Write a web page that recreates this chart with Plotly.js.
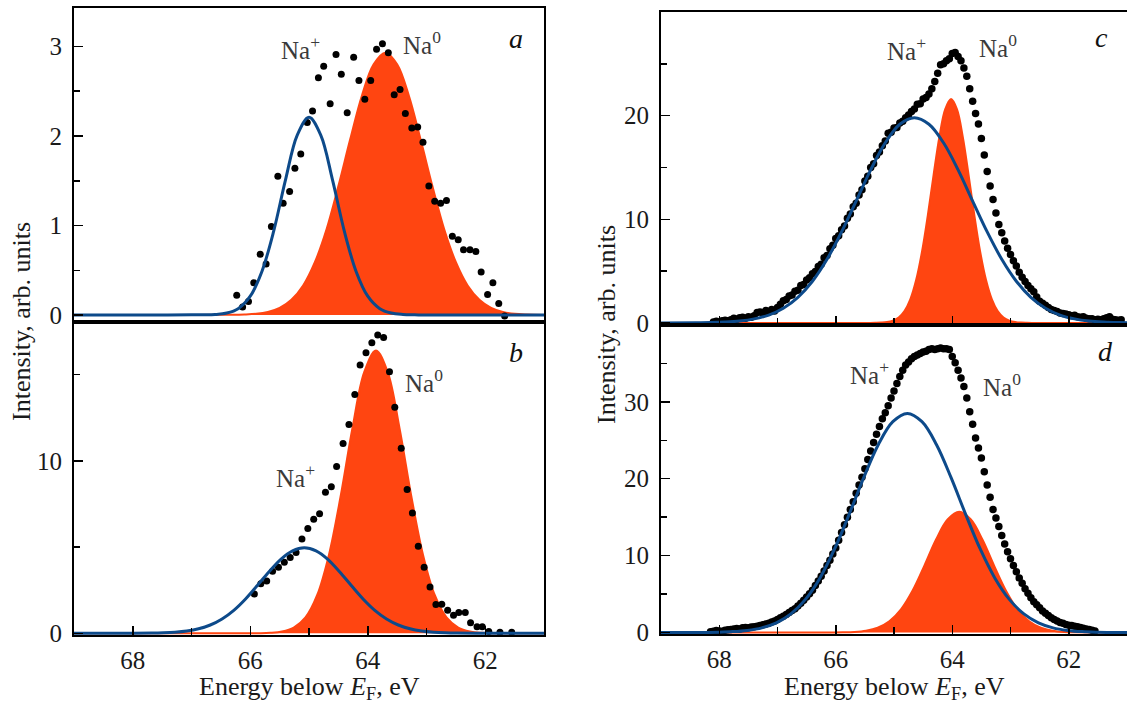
<!DOCTYPE html>
<html>
<head>
<meta charset="utf-8">
<script src="https://cdn.plot.ly/plotly-3.0.1.min.js"></script>
<style>html,body{margin:0;padding:0;background:#fff;}#chart{width:1127px;height:707px;}</style>
</head>
<body>
<div id="chart"></div>
<script>
// ---------- Panel a ----------
const aPtsX = [66.23,66.13,66.03,65.94,65.83,65.73,65.64,65.53,65.44,65.33,65.24,65.14,65.03,64.94,64.84,64.75,64.64,64.54,64.45,64.35,64.24,64.15,64.05,63.95,63.85,63.75,63.65,63.55,63.45,63.36,63.25,63.15,63.06,62.96,62.86,62.76,62.66,62.56,62.46,62.37,62.26,62.16,62.07,61.96,61.87,61.77,61.67];
const aPtsY = [0.22,0.09,0.15,0.36,0.68,0.57,0.99,1.55,1.25,1.38,1.64,1.80,2.15,2.28,2.65,2.78,2.36,2.91,2.69,2.26,2.88,2.62,2.41,2.62,2.97,3.03,2.93,2.46,2.52,2.25,2.09,2.10,1.93,1.44,1.27,1.25,1.28,0.88,0.84,0.73,0.73,0.71,0.48,0.23,0.36,0.13,-0.01];
const aPlusX = [69,68,67.4,67.0,66.8,66.6,66.4,66.2,66.0,65.8,65.6,65.4,65.2,65.0,64.8,64.6,64.4,64.2,64.0,63.8,63.6,63.4,63.2,63.0,62.6,61];
const aPlusY = [0,0,0,0.002,0.003,0.006,0.022,0.074,0.21,0.49,0.94,1.51,2.01,2.21,2.01,1.51,0.94,0.49,0.21,0.074,0.022,0.006,0.002,0,0,0];
const aZeroX = [69,67.5,66.9,66.5,66.3,66.1,65.9,65.7,65.5,65.3,65.1,64.9,64.7,64.5,64.3,64.1,63.9,63.7,63.5,63.3,63.1,62.9,62.7,62.5,62.3,62.1,61.9,61.7,61.5,61.3,61];
const aZeroY = [0,0,0,0.002,0.002,0.005,0.013,0.034,0.079,0.17,0.33,0.59,0.96,1.44,1.96,2.45,2.80,2.93,2.80,2.45,1.96,1.44,0.96,0.59,0.33,0.17,0.079,0.034,0.013,0.005,0.001];

// ---------- Panel b ----------
const bPtsX = [65.93,65.82,65.72,65.62,65.52,65.42,65.32,65.22,65.12,65.02,64.92,64.82,64.72,64.62,64.53,64.42,64.32,64.22,64.13,64.03,63.93,63.83,63.73,63.63,63.54,63.43,63.33,63.24,63.14,63.04,62.94,62.84,62.74,62.64,62.54,62.45,62.34,62.25,62.14,62.05,61.94,61.75,61.55];
const bPtsY = [2.28,2.87,3.03,3.60,3.83,4.12,4.39,4.69,5.46,6.07,6.61,6.93,8.18,8.49,9.67,11.0,12.1,13.85,15.56,16.26,16.84,17.30,17.15,15.17,13.10,10.73,8.33,6.97,5.04,3.83,2.68,1.67,1.69,1.34,1.05,1.21,1.21,0.61,0.38,0.38,0.10,0.06,0.06];
const bPlusX = [69,68.4,68.0,67.68,67.48,67.28,67.08,66.88,66.68,66.48,66.28,66.08,65.88,65.68,65.48,65.28,65.08,64.88,64.68,64.48,64.28,64.08,63.88,63.68,63.48,63.28,63.08,62.88,62.68,62.48,62.16,61.7,61];
const bPlusY = [0,0,0.003,0.01,0.026,0.06,0.13,0.26,0.48,0.83,1.33,1.99,2.77,3.57,4.29,4.78,4.96,4.78,4.29,3.57,2.77,1.99,1.33,0.83,0.48,0.26,0.13,0.06,0.026,0.01,0.003,0,0];
const bZeroX = [69,67,66.4,66.06,65.86,65.66,65.46,65.26,65.06,64.86,64.66,64.46,64.26,64.06,63.86,63.66,63.46,63.26,63.06,62.86,62.66,62.46,62.26,62.06,61.86,61.66,61.3,61];
const bZeroY = [0,0,0,0.001,0.005,0.025,0.10,0.33,0.92,2.22,4.56,7.98,11.91,15.14,16.4,15.14,11.91,7.98,4.56,2.22,0.92,0.33,0.10,0.025,0.005,0.001,0,0];

// ---------- Panel c ----------
const cPtsX = [68.10,68.05,68.00,67.95,67.90,67.85,67.80,67.75,67.70,67.65,
67.60,67.55,67.50,67.45,67.40,67.35,67.30,67.25,67.20,67.15,
67.10,67.05,67.00,66.95,66.90,66.85,66.80,66.75,66.70,66.65,
66.60,66.55,66.50,66.45,66.40,66.35,66.30,66.25,66.20,66.15,
66.10,66.05,66.00,65.95,65.90,65.85,65.80,65.75,65.70,65.65,
65.60,65.55,65.50,65.45,65.40,65.35,65.30,65.25,65.20,65.15,
65.10,65.05,65.00,64.95,64.90,64.85,64.80,64.75,64.70,64.65,
64.60,64.55,64.50,64.45,64.40,64.35,64.30,64.25,64.20,64.15,
64.10,64.05,64.00,63.95,63.90,63.85,63.80,63.75,63.70,63.65,
63.60,63.55,63.50,63.45,63.40,63.35,63.30,63.25,63.20,63.15,
63.10,63.05,63.00,62.95,62.90,62.85,62.80,62.75,62.70,62.65,
62.60,62.55,62.50,62.45,62.40,62.35,62.30,62.25,62.20,62.15,
62.10,62.05,62.00,61.95,61.90,61.85,61.80,61.75,61.70,61.65,
61.60,61.55,61.50,61.45,61.40,61.35,61.30,61.25,61.20,61.15,
61.10];
const cPtsY = [0.10,0.15,0.10,0.20,0.25,0.20,0.30,0.45,0.35,0.50,
0.55,0.45,0.60,0.55,0.70,1.00,1.05,0.95,1.20,1.05,
1.30,1.15,1.50,1.80,2.15,2.25,2.60,2.70,3.05,3.15,
3.60,3.70,4.15,4.35,4.75,4.95,5.45,5.65,6.30,6.50,
7.15,7.50,8.15,8.40,9.00,9.35,10.10,10.50,11.20,11.55,
12.35,12.85,13.70,14.15,15.00,15.35,16.15,16.50,17.10,17.55,
18.30,18.40,18.80,18.85,19.30,19.45,19.80,20.05,20.40,20.65,
21.10,21.15,21.60,21.75,22.10,22.60,23.30,24.10,24.90,25.00,
25.30,25.50,26.00,26.10,25.70,25.30,24.60,23.80,22.60,21.40,
20.20,19.20,17.80,16.20,14.60,13.20,11.90,10.60,9.50,8.70,
7.90,7.20,6.60,6.00,5.50,4.90,4.40,4.00,3.60,3.30,
3.00,2.50,2.10,1.90,1.70,1.50,1.30,1.20,1.10,0.95,
0.90,0.85,0.80,0.70,0.75,0.60,0.55,0.60,0.45,0.40,
0.40,0.30,0.35,0.30,0.40,0.50,0.60,0.35,0.30,0.25,
0.30];
const cPlusX = [69,68.4,68.15,67.9,67.65,67.4,67.15,66.9,66.65,66.4,66.15,65.9,65.65,65.4,65.15,64.9,64.65,64.4,64.15,63.9,63.65,63.4,63.15,62.9,62.65,62.4,62.15,61.9,61.65,61.4,61.15,61];
const cPlusY = [0,0.01,0.03,0.08,0.18,0.39,0.76,1.42,2.47,4.02,6.14,8.78,11.76,14.77,17.38,19.17,19.8,19.17,17.38,14.77,11.76,8.78,6.14,4.02,2.47,1.42,0.76,0.39,0.18,0.08,0.03,0.015];
const cZeroX = [69,66,65.6,65.42,65.32,65.22,65.12,65.02,64.92,64.82,64.72,64.62,64.52,64.42,64.32,64.22,64.12,64.02,63.92,63.82,63.72,63.62,63.52,63.42,63.32,63.22,63.12,63.02,62.92,62.82,62.72,62.62,62.4,61];
const cZeroY = [0,0,0,0.003,0.01,0.03,0.08,0.22,0.52,1.14,2.27,4.13,6.85,10.36,14.29,17.97,20.63,21.6,20.63,17.97,14.29,10.36,6.85,4.13,2.27,1.14,0.52,0.22,0.08,0.03,0.01,0.003,0,0];

// ---------- Panel d ----------
const dPtsX = [68.15,68.10,68.05,68.00,67.95,67.90,67.85,67.80,67.75,67.70,
67.65,67.60,67.55,67.50,67.45,67.40,67.35,67.30,67.25,67.20,
67.15,67.10,67.05,67.00,66.95,66.90,66.85,66.80,66.75,66.70,
66.65,66.60,66.55,66.50,66.45,66.40,66.35,66.30,66.25,66.20,
66.15,66.10,66.05,66.00,65.95,65.90,65.85,65.80,65.75,65.70,
65.65,65.60,65.55,65.50,65.45,65.40,65.35,65.30,65.25,65.20,
65.15,65.10,65.05,65.00,64.95,64.90,64.85,64.80,64.75,64.70,
64.65,64.60,64.55,64.50,64.45,64.40,64.35,64.30,64.25,64.20,
64.15,64.10,64.05,64.00,63.95,63.90,63.85,63.80,63.75,63.70,
63.65,63.60,63.55,63.50,63.45,63.40,63.35,63.30,63.25,63.20,
63.15,63.10,63.05,63.00,62.95,62.90,62.85,62.80,62.75,62.70,
62.65,62.60,62.55,62.50,62.45,62.40,62.35,62.30,62.25,62.20,
62.15,62.10,62.05,62.00,61.95,61.90,61.85,61.80,61.75,61.70,
61.65,61.60,61.55];
const dPtsY = [0.10,0.15,0.25,0.20,0.15,0.30,0.35,0.40,0.45,0.50,
0.45,0.60,0.65,0.60,0.70,0.75,0.80,0.90,1.00,1.10,
1.20,1.35,1.50,1.70,1.90,2.10,2.35,2.60,2.85,3.10,
3.45,3.80,4.20,4.60,5.05,5.50,6.10,6.70,7.30,8.00,
8.70,9.40,10.20,11.00,12.00,13.00,14.00,15.00,16.00,17.00,
18.10,19.20,20.20,21.30,22.50,23.60,24.70,25.80,26.80,27.80,
28.60,29.50,30.50,31.40,32.40,33.30,34.10,34.80,35.20,35.60,
35.90,36.10,36.30,36.50,36.60,36.80,36.90,36.80,36.90,37.00,
36.90,36.90,36.80,35.90,35.10,34.10,33.10,32.00,30.50,28.70,
27.10,25.30,24.00,22.70,20.90,19.20,17.60,16.00,14.90,13.80,
12.60,11.50,10.50,9.60,8.70,7.90,7.10,6.40,5.70,5.10,
4.50,4.00,3.60,3.20,2.80,2.50,2.20,1.90,1.70,1.50,
1.30,1.20,1.05,0.95,0.90,0.80,0.75,0.65,0.55,0.45,
0.40,0.30,0.20];
const dPlusX = [69,68.52,68.27,68.02,67.77,67.52,67.27,67.02,66.77,66.52,66.27,66.02,65.77,65.52,65.27,65.02,64.77,64.52,64.27,64.02,63.77,63.52,63.27,63.02,62.77,62.52,62.27,62.02,61.77,61.52,61.27,61];
const dPlusY = [0,0,0.01,0.04,0.11,0.27,0.60,1.25,2.41,4.30,7.10,10.86,15.37,20.14,24.43,27.42,28.5,27.42,24.43,20.14,15.37,10.86,7.10,4.30,2.41,1.25,0.60,0.27,0.11,0.04,0.01,0];
const dZeroX = [69,66.5,66.08,65.88,65.68,65.48,65.28,65.08,64.88,64.68,64.48,64.28,64.08,63.88,63.68,63.48,63.28,63.08,62.88,62.68,62.48,62.28,62.08,61.88,61.5,61];
const dZeroY = [0,0,0.005,0.02,0.07,0.23,0.62,1.45,3.00,5.45,8.66,12.06,14.70,15.7,14.70,12.06,8.66,5.45,3.00,1.45,0.62,0.23,0.07,0.02,0,0];

// ---------- labels ----------
const xTickVals = [68,66,64,62];
const aTickVals = [0,1,2,3];
const bTickVals = [0,10];
const cTickVals = [0,10,20];
const dTickVals = [0,10,20,30];
const panelLetters = ['a','b','c','d'];
const xTitle = 'Energy below <i>E</i><sub>F</sub>, eV';
const yTitle = 'Intensity, arb. units';

const W = 1127, H = 707;
const ORANGE = '#ff4511', BLUE = '#0d4a8a';
const FONT = 'Liberation Serif, Times New Roman, serif';

function panelTraces(px, py, zx, zy, bx, by, xa, ya, msize) {
  return [
    {x: zx, y: zy, xaxis: xa, yaxis: ya, type: 'scatter', mode: 'lines',
     line: {color: ORANGE, width: 2, shape: 'spline'}, fill: 'tozeroy', fillcolor: ORANGE, hoverinfo: 'skip'},
    {x: px, y: py, xaxis: xa, yaxis: ya, type: 'scatter', mode: 'markers',
     marker: {color: '#000', size: msize}, hoverinfo: 'skip'},
    {x: bx, y: by, xaxis: xa, yaxis: ya, type: 'scatter', mode: 'lines',
     line: {color: BLUE, width: 3, shape: 'spline'}, hoverinfo: 'skip'}
  ];
}

const data = [].concat(
  panelTraces(aPtsX, aPtsY, aZeroX, aZeroY, aPlusX, aPlusY, 'x', 'y', 7),
  panelTraces(bPtsX, bPtsY, bZeroX, bZeroY, bPlusX, bPlusY, 'x2', 'y2', 7),
  panelTraces(cPtsX, cPtsY, cZeroX, cZeroY, cPlusX, cPlusY, 'x3', 'y3', 7.5),
  panelTraces(dPtsX, dPtsY, dZeroX, dZeroY, dPlusX, dPlusY, 'x4', 'y4', 7.5)
);

const tickFont = {family: FONT, size: 25, color: '#1a1a1a'};
const xL = [74 / W, 544 / W], xR = [661 / W, 1];
const fy = p => 1 - p / H;

function xaxis(domain, anchor, showTicks, showLabels) {
  return {
    domain: domain, anchor: anchor, range: [69, 61], autorange: false,
    showgrid: false, zeroline: false, showline: true, mirror: true, linecolor: '#000', linewidth: 2,
    ticks: showTicks ? 'inside' : '', tickmode: 'array', tickvals: xTickVals,
    ticklen: 9, tickwidth: 1.5, tickcolor: '#000',
    minor: showTicks ? {ticks: 'inside', dtick: 1, tick0: 0, ticklen: 7, tickwidth: 1.5, tickcolor: '#000'} : {ticks: ''},
    showticklabels: showLabels, tickfont: tickFont, ticklabelstandoff: 2
  };
}
function yaxis(domain, anchor, range, tickvals, minor, mirror) {
  return {
    domain: domain, anchor: anchor, range: range, autorange: false,
    showgrid: false, zeroline: false, showline: true, mirror: mirror, linecolor: '#000', linewidth: 2,
    ticks: 'inside', tickmode: 'array', tickvals: tickvals, ticklen: 9, tickwidth: 1.5, tickcolor: '#000',
    minor: {ticks: 'inside', dtick: minor, tick0: 0, ticklen: 6, tickwidth: 1.5, tickcolor: '#000'},
    tickfont: tickFont, ticklabelstandoff: 5
  };
}

const labFont = {family: FONT, size: 25, color: '#3a3a3a'};
const letFont = {family: FONT, size: 28, color: '#111'};
const titleFont = {family: FONT, size: 26, color: '#1a1a1a'};
function lab(text, x, y, xr, yr, xanchor, font) {
  return {text: text, x: x, y: y, xref: xr, yref: yr, xanchor: xanchor, yanchor: 'middle',
          showarrow: false, font: font};
}

const annotations = [
  lab('Na<sup>+</sup>', 65.51, 2.98, 'x', 'y', 'left', labFont),
  lab('Na<sup>0</sup>', 63.43, 3.04, 'x', 'y', 'left', labFont),
  lab('<i>' + panelLetters[0] + '</i>', 61.47, 3.09, 'x', 'y', 'center', letFont),
  lab('Na<sup>0</sup>', 63.40, 14.65, 'x2', 'y2', 'left', labFont),
  lab('Na<sup>+</sup>', 65.59, 9.10, 'x2', 'y2', 'left', labFont),
  lab('<i>' + panelLetters[1] + '</i>', 61.47, 16.3, 'x2', 'y2', 'center', letFont),
  lab('Na<sup>+</sup>', 65.16, 26.4, 'x3', 'y3', 'left', labFont),
  lab('Na<sup>0</sup>', 63.57, 26.7, 'x3', 'y3', 'left', labFont),
  lab('<i>' + panelLetters[2] + '</i>', 61.43, 27.5, 'x3', 'y3', 'center', letFont),
  lab('Na<sup>+</sup>', 65.79, 33.7, 'x4', 'y4', 'left', labFont),
  lab('Na<sup>0</sup>', 63.51, 32.2, 'x4', 'y4', 'left', labFont),
  lab('<i>' + panelLetters[3] + '</i>', 61.37, 36.5, 'x4', 'y4', 'center', letFont),
  {text: xTitle, x: 309 / W, y: fy(688), xref: 'paper', yref: 'paper', xanchor: 'center', yanchor: 'middle', showarrow: false, font: titleFont},
  {text: xTitle, x: 894 / W, y: fy(688), xref: 'paper', yref: 'paper', xanchor: 'center', yanchor: 'middle', showarrow: false, font: titleFont},
  {text: yTitle, x: 21 / W, y: fy(322), xref: 'paper', yref: 'paper', xanchor: 'center', yanchor: 'middle', textangle: -90, showarrow: false, font: titleFont},
  {text: yTitle, x: 606 / W, y: fy(325), xref: 'paper', yref: 'paper', xanchor: 'center', yanchor: 'middle', textangle: -90, showarrow: false, font: titleFont}
];

const layout = {
  width: W, height: H, margin: {l: 0, r: 0, t: 0, b: 0, pad: 0},
  paper_bgcolor: '#fff', plot_bgcolor: 'rgba(0,0,0,0)', showlegend: false,
  font: {family: FONT},
  xaxis: xaxis(xL, 'y', false, false),
  yaxis: yaxis([fy(322), fy(8)], 'x', [-0.078, 3.43], aTickVals, 0.5, true),
  xaxis2: xaxis(xL, 'y2', true, true),
  yaxis2: yaxis([fy(635), fy(322)], 'x2', [-0.1, 18.05], bTickVals, 5, true),
  xaxis3: xaxis(xR, 'y3', true, false),
  yaxis3: yaxis([fy(325), fy(12)], 'x3', [-0.2, 30], cTickVals, 5, false),
  xaxis4: xaxis(xR, 'y4', true, true),
  yaxis4: yaxis([fy(634), fy(325)], 'x4', [-0.2, 40], dTickVals, 5, false),
  annotations: annotations
};

Plotly.newPlot('chart', data, layout, {staticPlot: true, displayModeBar: false});
</script>
</body>
</html>
